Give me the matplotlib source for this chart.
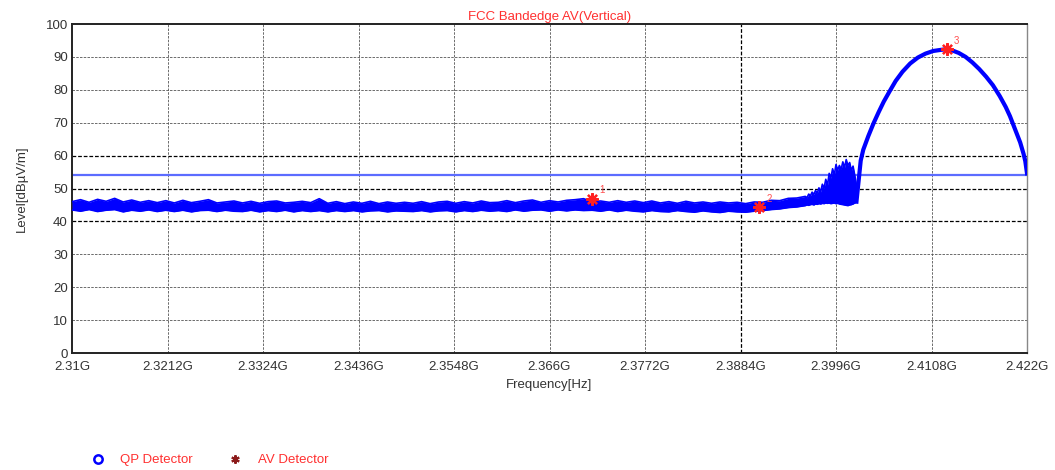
import numpy as np
import matplotlib
matplotlib.use("Agg")
import matplotlib.pyplot as plt
from matplotlib.lines import Line2D

plt.rcParams["font.family"] = ["Liberation Sans", "DejaVu Sans"]

# noise floor envelope, 1 MHz apart (GHz, dBuV/m)
floor_start, floor_stop = 2.310, 2.396
floor_high = [
    46.0, 46.6, 45.8, 46.7, 46.1, 47.0, 45.9, 46.5, 45.8, 46.3,
    45.7, 46.3, 45.6, 46.4, 45.7, 46.1, 46.6, 45.6, 45.9, 46.2,
    45.6, 46.1, 45.5, 46.0, 46.2, 45.6, 45.8, 46.1, 45.7, 46.9,
    45.5, 46.0, 45.4, 45.9, 45.5, 46.1, 45.4, 45.9, 45.5, 45.8,
    45.5, 46.0, 45.4, 45.9, 46.1, 45.5, 46.0, 45.6, 46.2, 45.7,
    45.8, 46.3, 45.7, 46.2, 46.5, 45.8, 46.3, 45.9, 46.4, 46.6,
    46.9, 46.0, 46.2, 45.8, 46.3, 45.8, 46.2, 45.7, 46.2, 45.6,
    46.0, 45.5, 46.1, 45.6, 45.9, 45.5, 45.9, 45.6, 45.8, 45.4,
    45.9, 45.8, 46.4, 46.3, 47.0, 47.1, 47.6,
]
floor_low = [
    43.5, 43.1, 43.6, 43.0, 43.4, 43.6, 42.9, 43.4, 43.1, 43.5,
    43.0, 43.4, 43.0, 43.4, 42.9, 43.3, 43.4, 43.0, 43.4, 43.1,
    43.0, 43.4, 42.9, 43.3, 43.0, 43.4, 42.9, 43.3, 43.0, 43.3,
    42.9, 43.3, 43.0, 43.3, 42.9, 43.2, 43.3, 42.9, 43.2, 43.1,
    43.0, 43.3, 42.9, 43.2, 43.3, 42.9, 43.3, 43.0, 43.4, 43.1,
    43.3, 43.0, 43.5, 43.1, 43.4, 43.5, 43.1, 43.5, 43.2, 43.5,
    43.3, 43.4, 43.1, 43.5, 43.0, 43.4, 43.1, 42.9, 43.3, 43.0,
    42.9, 43.3, 43.0, 42.8, 43.2, 42.9, 42.7, 43.1, 42.9, 42.8,
    43.1, 43.3, 43.6, 43.8, 44.2, 44.4, 44.8,
]

# noisy skirt just below the band edge, 0.2 MHz apart
rise_start, rise_stop = 2.3960, 2.4020
rise_high = [
    47.6, 47.2, 48.3, 47.8, 48.9, 48.2, 49.4, 48.6, 50.2, 49.0, 51.3, 50.1, 52.8, 51.0, 54.6, 53.2,
    56.0, 54.1, 57.3, 55.6, 57.0, 55.8, 58.1, 56.4, 58.8, 57.0, 57.9, 55.5, 56.8, 54.0, 51.0,
]
rise_low = [
    44.8, 45.0, 44.9, 45.1, 45.2, 45.0, 45.3, 45.2, 45.4, 45.3, 45.5, 45.4, 45.6, 45.5, 45.6, 45.4,
    45.5, 45.6, 45.4, 45.5, 45.3, 45.2, 45.1, 45.0, 44.9, 44.8, 45.0, 45.1, 45.3, 45.6, 46.0,
]

# in-band carrier
hump_freq = [
    2.4020, 2.4025, 2.4028, 2.4034, 2.4040, 2.4046, 2.4052, 2.4059, 2.4066, 2.4074, 2.4083,
    2.4092, 2.4101, 2.4110, 2.4118, 2.4124, 2.4132, 2.4140, 2.4148, 2.4156, 2.4164,
    2.4172, 2.4180, 2.4188, 2.4195, 2.4200, 2.4206, 2.4212, 2.4216, 2.4218, 2.4220,
]
hump_level = [
    46.0, 58.5, 61.8, 66.0, 69.8, 73.2, 76.4, 79.6, 82.7, 85.5, 88.0,
    89.8, 91.0, 91.8, 92.1, 92.3, 92.0, 91.2, 90.0, 88.3, 86.3,
    84.0, 81.4, 78.1, 74.8, 72.0, 68.0, 64.0, 60.5, 58.3, 54.6,
]

limit_level = 54.0

marker_freq = [2.3710, 2.3906, 2.4126]
marker_level = [46.8, 44.3, 92.3]
marker_names = ["1", "2", "3"]

xticks = [2.31, 2.3212, 2.3324, 2.3436, 2.3548, 2.366, 2.3772, 2.3884, 2.3996, 2.4108, 2.422]
xtick_labels = ["2.31G", "2.3212G", "2.3324G", "2.3436G", "2.3548G", "2.366G",
                "2.3772G", "2.3884G", "2.3996G", "2.4108G", "2.422G"]
yticks = list(range(0, 101, 10))

floor_freq = np.linspace(floor_start, floor_stop, len(floor_high))
rise_freq = np.linspace(rise_start, rise_stop, len(rise_high))

fig = plt.figure(figsize=(10.55, 4.70), dpi=100)
ax = fig.add_axes([72 / 1055, 1 - 353 / 470, 955 / 1055, 329 / 470])

# grid: grey dashes, a few darker reference lines
dark_y = [40, 50, 60]
dark_x = [2.3884]
for y in yticks[1:-1]:
    if y in dark_y:
        ax.axhline(y, color="black", lw=0.9, ls=(0, (3, 1.5)), zorder=1)
    else:
        ax.axhline(y, color="#555555", lw=0.6, ls=(0, (3, 1.5)), zorder=1)
for x in xticks[1:-1]:
    if x in dark_x:
        ax.axvline(x, color="black", lw=0.9, ls=(0, (3, 1.5)), zorder=1)
    else:
        ax.axvline(x, color="#555555", lw=0.6, ls=(0, (3, 1.5)), zorder=1)

ax.axhline(limit_level, color="#5c6cff", lw=1.6, zorder=2)

trace = "#0000ff"
band_freq = np.concatenate([floor_freq, rise_freq])
band_low = np.concatenate([floor_low, rise_low])
band_high = np.concatenate([floor_high, rise_high])
ax.fill_between(band_freq, band_low, band_high, color=trace, lw=0, zorder=3)
ax.plot(band_freq, band_high, color=trace, lw=1.2, zorder=3)
ax.plot(band_freq, band_low, color=trace, lw=1.2, zorder=3)
ax.plot(hump_freq, hump_level, color=trace, lw=3.0, solid_joinstyle="round", zorder=3)

ax.plot(marker_freq, marker_level, ls="none", marker=(8, 2, 0), ms=9,
        mew=1.6, color="#ff2020", zorder=4)
for f, l, n in zip(marker_freq, marker_level, marker_names):
    ax.annotate(n, (f, l), xytext=(5, 4), textcoords="offset points",
                color="#ff5050", fontsize=7, zorder=5)

ax.set_xlim(xticks[0], xticks[-1])
ax.set_ylim(0, 100)
ax.set_xticks(xticks)
ax.set_xticklabels(xtick_labels)
ax.set_yticks(yticks)
ax.tick_params(length=0, labelsize=9.5, colors="#333333", pad=6)
ax.tick_params(axis="y", pad=3)

for side in ["top", "left", "bottom"]:
    ax.spines[side].set_color("#222222")
    ax.spines[side].set_linewidth(1.4)
ax.spines["right"].set_color("#888888")
ax.spines["right"].set_linewidth(1.0)

ax.set_title("FCC Bandedge AV(Vertical)", color="#ff3030", fontsize=9.5, pad=3)
ax.set_xlabel("Frequency[Hz]", fontsize=9.5, color="#333333", labelpad=4)
ax.set_ylabel("Level[dBµV/m]", fontsize=9.5, color="#333333", labelpad=13)

handles = [
    Line2D([], [], ls="none", marker="o", mfc="none", mec="#0000ff", mew=1.8, ms=6),
    Line2D([], [], ls="none", marker=(6, 2, 0), color="#8b1a1a", mew=1.5, ms=6),
]
fig.legend(handles, ["QP Detector", "AV Detector"], loc="center left",
           bbox_to_anchor=(78 / 1055, 1 - 460 / 470), ncol=2, frameon=False,
           labelcolor="#ff3030", fontsize=9.5, handletextpad=1.1, columnspacing=2.6,
           handlelength=1.2)

fig.savefig("out.png", dpi=100)
